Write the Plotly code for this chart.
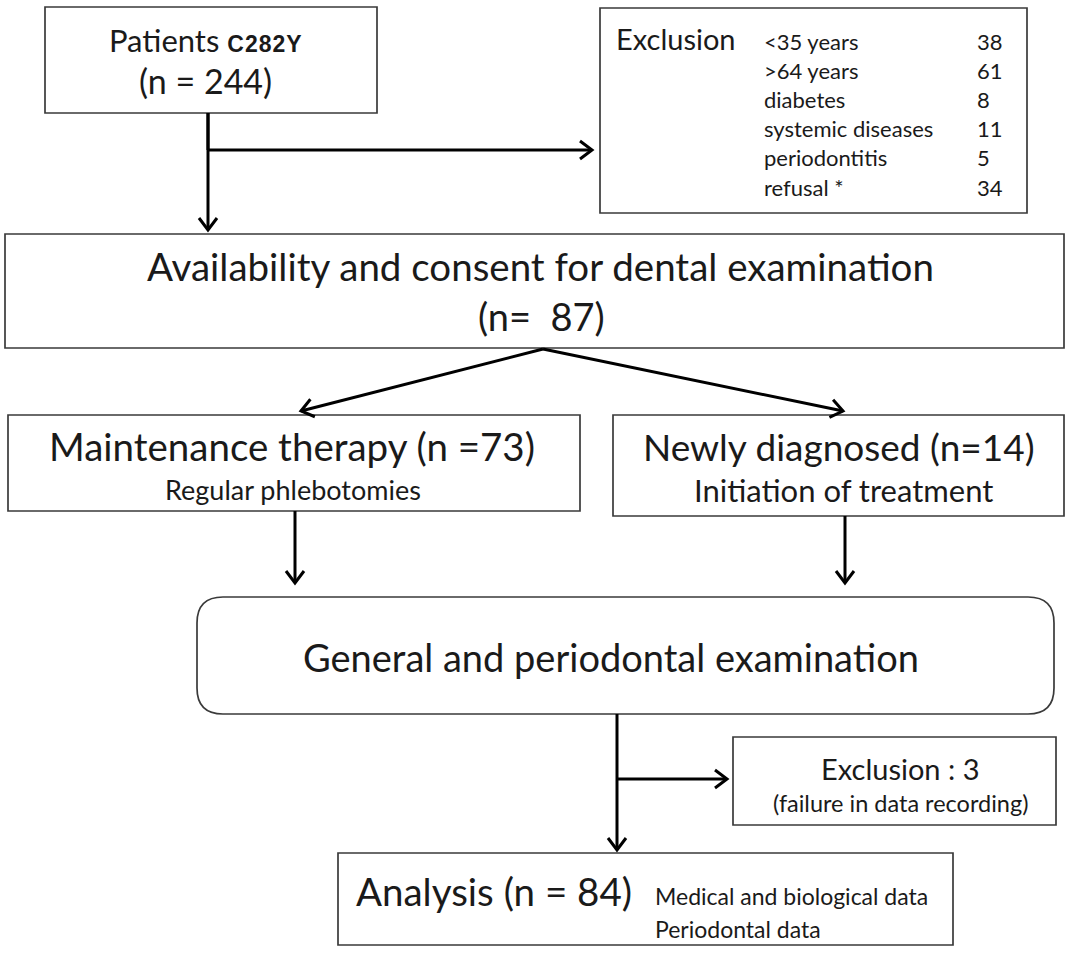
import math
import plotly.graph_objects as go

# ---- data ----
total_patients = 244
exclusion_reasons = ["<35 years", ">64 years", "diabetes", "systemic diseases", "periodontitis", "refusal *"]
exclusion_counts = [38, 61, 8, 11, 5, 34]
available_n = 87
maintenance_n = 73
newly_n = 14
late_exclusion_n = 3
analysis_n = 84

W, H = 1068, 959
FONT = "Lato"
BOX = "#3a3a3a"

fig = go.Figure()
shapes = []
ann = []


def rect(x0, y0, x1, y1, w=1.7):
    shapes.append(dict(type="rect", x0=x0, y0=y0, x1=x1, y1=y1, xref="x", yref="y",
                       line=dict(color=BOX, width=w), fillcolor="white", layer="below"))


def rrect(x0, y0, x1, y1, r, w=1.7):
    p = (f"M {x0+r},{y0} L {x1-r},{y0} Q {x1},{y0} {x1},{y0+r} L {x1},{y1-r} "
         f"Q {x1},{y1} {x1-r},{y1} L {x0+r},{y1} Q {x0},{y1} {x0},{y1-r} "
         f"L {x0},{y0+r} Q {x0},{y0} {x0+r},{y0} Z")
    shapes.append(dict(type="path", path=p, xref="x", yref="y",
                       line=dict(color=BOX, width=w), fillcolor="white", layer="below"))


def line(x0, y0, x1, y1, w=3):
    shapes.append(dict(type="line", x0=x0, y0=y0, x1=x1, y1=y1, xref="x", yref="y",
                       line=dict(color="black", width=w)))


def arrow(x0, y0, x1, y1, w=3, hl=12, hw=9):
    line(x0, y0, x1, y1, w)
    dx, dy = x1 - x0, y1 - y0
    L = math.hypot(dx, dy)
    ux, uy = dx / L, dy / L
    px, py = -uy, ux
    bx, by = x1 - ux * hl, y1 - uy * hl
    p = (f"M {bx+px*hw},{by+py*hw} L {x1},{y1} L {bx-px*hw},{by-py*hw}")
    shapes.append(dict(type="path", path=p, xref="x", yref="y",
                       line=dict(color="black", width=w)))


def text(x, y, s, size, xanchor="center", color="#1a1a1a", family=FONT):
    ann.append(dict(x=x, y=y, xref="x", yref="y", text=s, showarrow=False,
                    xanchor=xanchor, yanchor="middle",
                    font=dict(family=family, size=size, color=color)))


# ---- boxes ----
rect(45, 7, 377, 113)
text(206, 40, "Patients <b><span style='font-family:Liberation Sans;font-size:23px;letter-spacing:1px'>C282Y</span></b>", 31)
text(205, 80, f"(n = {total_patients})", 34)

rect(600, 8, 1027, 213)
text(614, 38, "Exclusion", 29, xanchor="left")
row_y0, row_dy = 41, 29.2
for i, (r, c) in enumerate(zip(exclusion_reasons, exclusion_counts)):
    yy = row_y0 + i * row_dy
    text(762, yy, r, 22, xanchor="left")
    text(975, yy, str(c), 22, xanchor="left")

rect(5, 234, 1064, 348)
text(540, 266, "Availability and consent for dental examination", 38.5)
text(541, 316, f"(n=  {available_n})", 38)

rect(8, 415, 580, 511)
text(292, 446, f"Maintenance therapy (n ={maintenance_n})", 38.5)
text(293, 489, "Regular phlebotomies", 27)

rect(613, 415, 1064, 516)
text(839, 446, f"Newly diagnosed (n={newly_n})", 37)
text(843, 490, "Initiation of treatment", 31)

rrect(197, 597, 1054, 714, 26)
text(611, 657, "General and periodontal examination", 38)

rect(733, 737, 1056, 825)
text(900, 768, f"Exclusion : {late_exclusion_n}", 29)
text(900, 803, "(failure in data recording)", 23.5)

rect(338, 853, 953, 945)
text(354, 891, f"Analysis (n = {analysis_n})", 38.5, xanchor="left")
text(653, 896, "Medical and biological data", 23, xanchor="left")
text(653, 929, "Periodontal data", 23, xanchor="left")

# ---- arrows ----
line(208, 113, 208, 150)
arrow(208, 113, 208, 230)
arrow(208, 150, 592, 150)

arrow(543, 349, 301, 411)
arrow(543, 349, 843, 411)

arrow(295, 511, 295, 583)
arrow(845, 516, 845, 583)

arrow(617, 714, 617, 850)
arrow(617, 779, 727, 779)

fig.update_layout(
    width=W, height=H,
    margin=dict(l=0, r=0, t=0, b=0),
    paper_bgcolor="white", plot_bgcolor="white",
    xaxis=dict(range=[0, W], visible=False, fixedrange=True),
    yaxis=dict(range=[H, 0], visible=False, fixedrange=True),
    shapes=shapes, annotations=ann, showlegend=False,
)
fig.write_html("out.html", config={"displayModeBar": False},
               post_script="document.body.style.margin='0';document.body.style.overflow='hidden';")
